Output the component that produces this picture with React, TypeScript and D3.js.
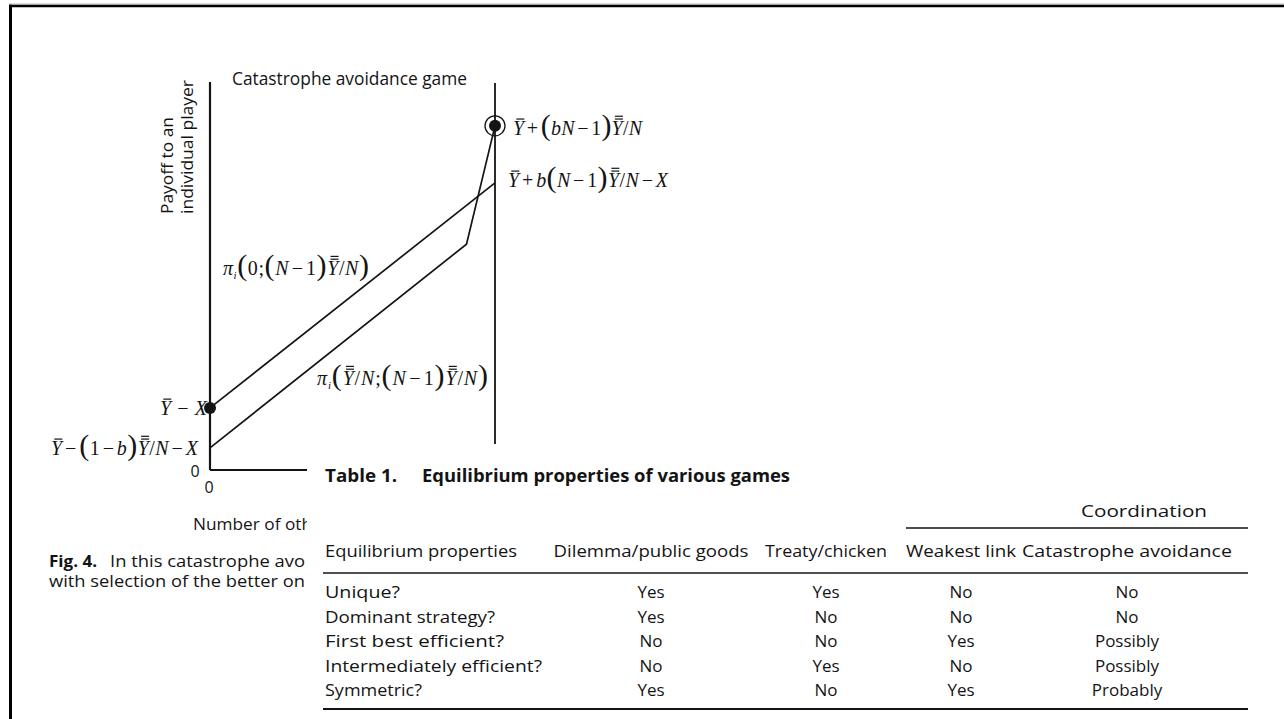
import React, { useLayoutEffect, useRef } from "react";
import * as d3 from "d3";

const W = 1284;
const H = 719;

// Payoff schedules against the number of other players contributing
const xDomain = [0, 10];
const yDomain = [0, 100];
const othersNotContributing = [0, 10];
const payoffNotContributing = [16, 74];
const othersContributing = [0, 9, 10];
const payoffContributing = [5.7, 58.2, 88.7];

// Formula labels: Y' = single bar, Y'' = double bar, _i = subscript
const formulaBest = "Y'+(bN−1)Y''/N";
const formulaFreeRide = "Y'+b(N−1)Y''/N−X";
const formulaIntercept = "Y'−X";
const formulaLowIntercept = "Y'−(1−b)Y''/N−X";
const formulaPiZero = "π_i(0;(N−1)Y''/N)";
const formulaPiShare = "π_i(Y''/N;(N−1)Y''/N)";

// Table 1
const tableTitleLead = "Table 1.";
const tableTitle = "Equilibrium properties of various games";
const groupHeader = "Coordination";
const columnHeaders = [
  "Equilibrium properties",
  "Dilemma/public goods",
  "Treaty/chicken",
  "Weakest link",
  "Catastrophe avoidance",
];
const rowLabels = [
  "Unique?",
  "Dominant strategy?",
  "First best efficient?",
  "Intermediately efficient?",
  "Symmetric?",
];
const dilemmaValues = ["Yes", "Yes", "No", "No", "Yes"];
const treatyValues = ["Yes", "No", "No", "Yes", "No"];
const weakestLinkValues = ["No", "No", "Yes", "No", "Yes"];
const catastropheValues = ["No", "No", "Possibly", "Possibly", "Probably"];

const SANS = "'Open Sans', 'Noto Sans', sans-serif";
const MATH = "'Liberation Serif', 'DejaVu Serif', serif";
const INK = "#141414";

type Tok = { s: string; kind: "var" | "num" | "op" | "paren" | "sub"; bar: number };

function parseFormula(src: string): Tok[] {
  const out: Tok[] = [];
  for (let i = 0; i < src.length; i++) {
    const c = src[i];
    if (c === "'") {
      out[out.length - 1].bar++;
      continue;
    }
    if (c === "_") {
      out.push({ s: src[++i], kind: "sub", bar: 0 });
      continue;
    }
    if (/[A-Za-zπ]/.test(c)) out.push({ s: c, kind: "var", bar: 0 });
    else if (c === "(" || c === ")") out.push({ s: c, kind: "paren", bar: 0 });
    else if (c === "+" || c === "−") out.push({ s: c, kind: "op", bar: 0 });
    else out.push({ s: c, kind: "num", bar: 0 });
  }
  return out;
}

type FormulaSpec = {
  src: string;
  x: number;
  y: number;
  anchor: "start" | "end";
  width: number;
};

function drawFormula(
  g: d3.Selection<SVGGElement, unknown, null, undefined>,
  spec: FormulaSpec,
  fs: number
) {
  const toks = parseFormula(spec.src);
  const text = g
    .append("text")
    .attr("x", spec.x)
    .attr("y", spec.y)
    .attr("text-anchor", spec.anchor)
    .attr("font-family", MATH)
    .attr("font-size", fs)
    .attr("fill", INK)
    .attr("textLength", spec.width)
    .attr("lengthAdjust", "spacing");
  const gap = 2.5;
  let shift = 0;
  let idx = 0;
  let pending = 0;
  const bars: { i: number; n: number }[] = [];
  toks.forEach((tk) => {
    let size = fs;
    let sh = 0;
    let style = "normal";
    if (tk.kind === "var") style = "italic";
    if (tk.kind === "paren") size = fs * 1.5;
    if (tk.kind === "sub") {
      size = fs * 0.55;
      sh = fs * 0.2;
      style = "italic";
    }
    let dx = pending;
    pending = 0;
    if (tk.kind === "op") {
      dx += gap;
      pending = gap;
    }
    const ts = text
      .append("tspan")
      .attr("font-size", size)
      .attr("font-style", style)
      .text(tk.s);
    if (sh - shift !== 0) ts.attr("dy", sh - shift);
    if (dx) ts.attr("dx", dx);
    shift = sh;
    if (tk.bar) bars.push({ i: idx, n: tk.bar });
    idx += tk.s.length;
  });
  const node = text.node() as SVGTextElement;
  bars.forEach((b) => {
    const r = node.getExtentOfChar(b.i);
    for (let k = 0; k < b.n; k++) {
      const yy = spec.y - fs * 0.66 - 2.6 - k * 2.8;
      g.append("line")
        .attr("x1", r.x + r.width * 0.3)
        .attr("x2", r.x + r.width * 1.02)
        .attr("y1", yy)
        .attr("y2", yy)
        .attr("stroke", INK)
        .attr("stroke-width", 1.2);
    }
  });
}

export default function App() {
  const mathRef = useRef<SVGGElement>(null);

  const x = d3.scaleLinear().domain(xDomain).range([210, 495]);
  const y = d3.scaleLinear().domain(yDomain).range([470, 82]);
  const line = d3
    .line<[number, number]>()
    .x((d) => x(d[0]))
    .y((d) => y(d[1]));

  const notContribPts = othersNotContributing.map(
    (v, i) => [v, payoffNotContributing[i]] as [number, number]
  );
  const contribPts = othersContributing.map(
    (v, i) => [v, payoffContributing[i]] as [number, number]
  );
  const last = payoffContributing.length - 1;

  useLayoutEffect(() => {
    const draw = () => {
      if (!mathRef.current) return;
      const g = d3.select(mathRef.current);
      g.selectAll("*").remove();
      const fs = 20;
      const specs: FormulaSpec[] = [
        {
          src: formulaBest,
          x: x(xDomain[1]) + 18,
          y: y(payoffContributing[last]) + 9,
          anchor: "start",
          width: 129,
        },
        {
          src: formulaFreeRide,
          x: x(xDomain[1]) + 13,
          y: y(payoffNotContributing[1]) + 4,
          anchor: "start",
          width: 160,
        },
        {
          src: formulaIntercept,
          x: x(0) - 3,
          y: y(payoffNotContributing[0]) + 7,
          anchor: "end",
          width: 47,
        },
        {
          src: formulaLowIntercept,
          x: x(0) - 12,
          y: y(payoffContributing[0]) + 7,
          anchor: "end",
          width: 147,
        },
        { src: formulaPiZero, x: 223, y: 275, anchor: "start", width: 146 },
        { src: formulaPiShare, x: 317, y: 385, anchor: "start", width: 171 },
      ];
      specs.forEach((s) => drawFormula(g, s, fs));
    };
    draw();
    if ((document as any).fonts?.ready) (document as any).fonts.ready.then(draw);
  }, []);

  const colCenters = [325, 651, 826, 961, 1127];
  const headerWidths = [192, 195, 122, 110, 210];
  const rowWidths = [75, 170, 179, 217, 97];
  const rowBaselines = [598, 623, 647, 672, 696];
  const columns = [dilemmaValues, treatyValues, weakestLinkValues, catastropheValues];

  return (
    <svg
      width={W}
      height={H}
      viewBox={`0 0 ${W} ${H}`}
      style={{ position: "absolute", left: 0, top: 0, display: "block", background: "#fff" }}
    >
      <rect x={0} y={0} width={W} height={H} fill="#fff" />

      {/* Figure 4: catastrophe avoidance game */}
      <g fontFamily={SANS} fill={INK}>
        <text x={232} y={85} fontSize={18} textLength={235} lengthAdjust="spacingAndGlyphs">
          Catastrophe avoidance game
        </text>
        <text
          transform="translate(173,214) rotate(-90)"
          fontSize={16.5}
          textLength={97}
          lengthAdjust="spacingAndGlyphs"
        >
          Payoff to an
        </text>
        <text
          transform="translate(193,214) rotate(-90)"
          fontSize={16.5}
          textLength={134}
          lengthAdjust="spacingAndGlyphs"
        >
          individual player
        </text>
        <text x={195} y={477} fontSize={16} textAnchor="middle">
          0
        </text>
        <text x={209} y={493} fontSize={16} textAnchor="middle">
          0
        </text>
        <text x={193} y={530} fontSize={16.5} textLength={119} lengthAdjust="spacingAndGlyphs">
          Number of oth
        </text>
        <text x={49} y={567} fontSize={16} fontWeight={700} textLength={48} lengthAdjust="spacingAndGlyphs">
          Fig. 4.
        </text>
        <text x={110} y={567} fontSize={16} textLength={195} lengthAdjust="spacingAndGlyphs">
          In this catastrophe avo
        </text>
        <text x={49} y={587} fontSize={16} textLength={256} lengthAdjust="spacingAndGlyphs">
          with selection of the better on
        </text>
      </g>

      <g stroke={INK} fill="none">
        <line x1={x(0)} x2={x(0)} y1={y(0)} y2={y(yDomain[1])} strokeWidth={2.2} />
        <line x1={x(0)} x2={x(xDomain[1])} y1={y(0)} y2={y(0)} strokeWidth={2.2} />
        <line
          x1={x(xDomain[1])}
          x2={x(xDomain[1])}
          y1={y(0)}
          y2={y(yDomain[1]) + 1}
          strokeWidth={1.8}
        />
        <path d={line(notContribPts) || ""} strokeWidth={1.7} />
        <path d={line(contribPts) || ""} strokeWidth={1.7} />
        <circle cx={x(xDomain[1])} cy={y(payoffContributing[last])} r={10} strokeWidth={1.3} />
      </g>
      <circle cx={x(xDomain[1])} cy={y(payoffContributing[last])} r={6} fill={INK} />
      <circle cx={x(0)} cy={y(payoffNotContributing[0])} r={6} fill={INK} />

      <g ref={mathRef} />

      {/* Table 1 panel */}
      <rect x={307} y={444} width={W - 307} height={H - 444} fill="#fff" />
      <g fontFamily={SANS} fill={INK}>
        <text x={325} y={482} fontSize={18} fontWeight={700} textLength={72} lengthAdjust="spacingAndGlyphs">
          {tableTitleLead}
        </text>
        <text x={422} y={482} fontSize={18} fontWeight={700} textLength={368} lengthAdjust="spacingAndGlyphs">
          {tableTitle}
        </text>
        <text x={1144} y={517} fontSize={17} textAnchor="middle" textLength={126} lengthAdjust="spacingAndGlyphs">
          {groupHeader}
        </text>
        {columnHeaders.map((h, i) => (
          <text
            key={h}
            x={colCenters[i]}
            y={557}
            fontSize={17}
            textAnchor={i === 0 ? "start" : "middle"}
            textLength={headerWidths[i]}
            lengthAdjust="spacingAndGlyphs"
          >
            {h}
          </text>
        ))}
        {rowLabels.map((r, i) => (
          <text
            key={r}
            x={325}
            y={rowBaselines[i]}
            fontSize={17}
            textLength={rowWidths[i]}
            lengthAdjust="spacingAndGlyphs"
          >
            {r}
          </text>
        ))}
        {columns.map((vals, c) =>
          vals.map((v, r) => (
            <text
              key={`${c}-${r}`}
              x={colCenters[c + 1]}
              y={rowBaselines[r]}
              fontSize={17}
              textAnchor="middle"
            >
              {v}
            </text>
          ))
        )}
      </g>
      <g stroke={INK}>
        <line x1={906} x2={1248} y1={528} y2={528} strokeWidth={1.3} />
        <line x1={323} x2={1248} y1={573} y2={573} strokeWidth={1.5} />
        <line x1={323} x2={1248} y1={709} y2={709} strokeWidth={2} />
      </g>

      {/* page frame */}
      <line x1={9} x2={W} y1={4} y2={4} stroke="#b8b8b8" strokeWidth={1} />
      <line x1={9} x2={W} y1={6} y2={6} stroke="#000" strokeWidth={2.6} />
      <line x1={10.5} x2={10.5} y1={4.7} y2={H} stroke="#000" strokeWidth={3} />
    </svg>
  );
}
